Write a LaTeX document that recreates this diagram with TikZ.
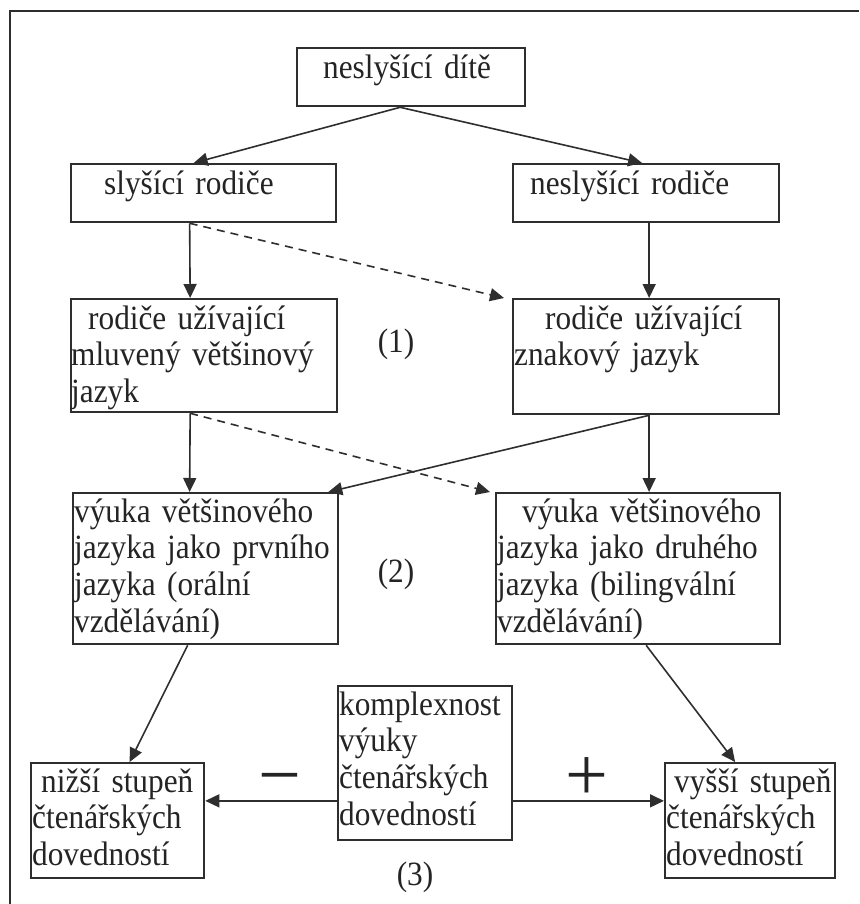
\documentclass[tikz,border=0pt]{standalone}
\usepackage{fontspec}
\setmainfont[FakeStretch=0.92]{Liberation Serif}
\newfontfamily\signfont{Liberation Serif}
\usetikzlibrary{arrows.meta,calc}
\definecolor{lc}{gray}{0.18}
\definecolor{tc}{gray}{0.14}
\begin{document}
\begin{tikzpicture}[x=1pt,y=-1pt,
  box/.style={draw=lc, line width=2.3pt, inner sep=0pt, anchor=north west},
  txt/.style={font=\fontsize{34}{36.8}\selectfont, inner sep=0pt, anchor=base west, align=left, text width=320pt, text=tc},
  lbl/.style={font=\fontsize{34}{36.8}\selectfont, inner sep=0pt, anchor=base, text=tc},
  sign/.style={font=\signfont\fontsize{76}{80}\selectfont, inner sep=0pt, anchor=base, text=tc},
  conn/.style={draw=lc, line width=1.6pt, -{Triangle[length=14pt,width=13pt]}},
  dconn/.style={conn, dash pattern=on 8pt off 6pt}]
\useasboundingbox (0,0) rectangle (859,904);
\draw[line width=2.2pt, lc] (859,11) -- (10,11) -- (10,904);
% boxes
\node[box, minimum width=228pt, minimum height=58pt] (A) at (296,47) {};
\node[box, minimum width=265pt, minimum height=58pt] (B) at (70,163) {};
\node[box, minimum width=266pt, minimum height=58pt] (C) at (512,163) {};
\node[box, minimum width=266pt, minimum height=113pt] (D) at (70,298) {};
\node[box, minimum width=266pt, minimum height=115pt] (E) at (512,298) {};
\node[box, minimum width=265pt, minimum height=151pt] (F) at (72,492) {};
\node[box, minimum width=284pt, minimum height=151pt] (G) at (495,492) {};
\node[box, minimum width=173pt, minimum height=115pt] (H) at (30,762) {};
\node[box, line width=1.7pt, minimum width=174pt, minimum height=154pt] (I) at (337,685) {};
\node[box, minimum width=170pt, minimum height=115pt] (J) at (664,762) {};
% texts
\node[txt] (tA) at (323,79) {neslyšící dítě};
\node[txt] (tB) at (104,194) {slyšící rodiče};
\node[txt] (tC) at (530,194) {neslyšící rodiče};
\node[txt] (tD) at (71,329) {\hspace*{17pt}rodiče užívající\\mluvený většinový\\jazyk};
\node[txt] (tE) at (514,329) {\hspace*{31pt}rodiče užívající\\znakový jazyk};
\node[txt] (tF) at (74,522) {výuka většinového\\jazyka jako prvního\\jazyka (orální\\vzdělávání)};
\node[txt] (tG) at (497,522) {\hspace*{25pt}výuka většinového\\jazyka jako druhého\\jazyka (bilingvální\\vzdělávání)};
\node[txt] (tH) at (32,792) {\hspace*{9pt}nižší stupeň\\čtenářských\\dovedností};
\node[txt] (tI) at (339,715) {komplexnost\\výuky\\čtenářských\\dovedností};
\node[txt] (tJ) at (666,792) {\hspace*{8pt}vyšší stupeň\\čtenářských\\dovedností};
\node[lbl] (l1) at (396,352) {(1)};
\node[lbl] (l2) at (396,582) {(2)};
\node[lbl] (l3) at (415,885) {(3)};
\node[sign] (minus) at (280,800) {−};
\node[sign] (plus) at (587,800) {+};
% connectors
\draw[conn] ([xshift=-11pt]A.south) -- ([xshift=-10pt]B.north);
\draw[conn] ([xshift=-11pt]A.south) -- ([xshift=-4pt]C.north);
\draw[conn] ([xshift=-14pt]B.south) -- ([xshift=-14pt]D.north);
\draw[conn] ([xshift=3pt]C.south) -- ([xshift=3pt]E.north);
\draw[dconn] ([xshift=-14pt]B.south) -- ([xshift=-8pt]E.north west);
\draw[conn] ([xshift=-14pt]D.south) -- ([xshift=-16pt]F.north);
\draw[conn] ([xshift=3pt]E.south) -- ([xshift=11pt]G.north);
\draw[conn] ([xshift=3pt]E.south) -- ([xshift=-11pt]F.north east);
\draw[dconn] ([xshift=-14pt]D.south) -- ([xshift=-5pt]G.north west);
\draw[conn] ([xshift=-18pt]F.south) -- ([xshift=12pt]H.north);
\draw[conn] ([xshift=8pt]G.south) -- ([xshift=-15pt]J.north);
\draw[conn] ([yshift=-38pt]I.west) -- ([yshift=-38pt]I.west -| H.east);
\draw[conn] ([yshift=-38pt]I.east) -- ([yshift=-38pt]I.east -| J.west);
\end{tikzpicture}
\end{document}
